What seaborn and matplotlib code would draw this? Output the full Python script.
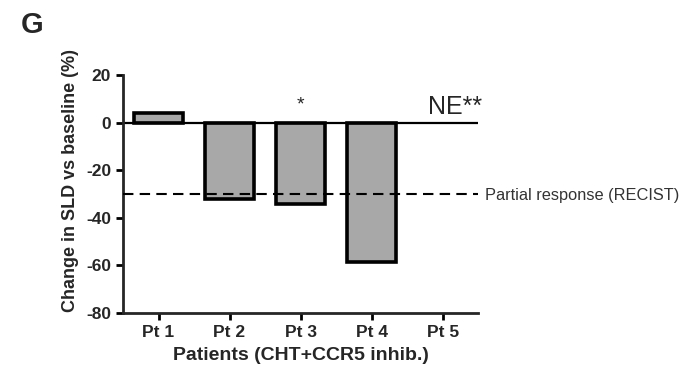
import matplotlib
matplotlib.use("Agg")
import matplotlib.pyplot as plt
import seaborn as sns
import numpy as np
import pandas as pd

patients = ["Pt 1", "Pt 2", "Pt 3", "Pt 4", "Pt 5"]
change = [4.0, -32.0, -34.0, -58.5, np.nan]
partial_response = -30
yticks = [-80, -60, -40, -20, 0, 20]

sns.set_theme(style="ticks")
plt.rcParams['font.family'] = ['Liberation Sans', 'DejaVu Sans']
plt.rcParams['axes.unicode_minus'] = False

df = pd.DataFrame({"patient": patients, "change": change})

fig = plt.figure(figsize=(6.97, 3.71), dpi=100)
ax = fig.add_axes([0.1765, 0.156, 0.5095, 0.642])

sns.barplot(data=df, x="patient", y="change", order=patients, color="#a8a8a8",
            saturation=1, width=0.68, edgecolor="black", linewidth=2.6, ax=ax)

ax.set_xlim(-0.5, 4.5)
ax.set_ylim(-80, 20)
ax.set_yticks(yticks)
ax.axhline(0, color="black", lw=1.6, zorder=1)
ax.axhline(partial_response, color="black", lw=1.5, ls=(0, (5, 3)), zorder=3, clip_on=False)

for s in ["top", "right"]:
    ax.spines[s].set_visible(False)
for s in ["left", "bottom"]:
    ax.spines[s].set_linewidth(2)
ax.tick_params(axis="both", width=2, length=5, labelsize=12.5, color="black")
for lab in ax.get_xticklabels() + ax.get_yticklabels():
    lab.set_fontweight("bold")

ax.set_xlabel("Patients (CHT+CCR5 inhib.)", fontsize=14, fontweight="bold", labelpad=5)
ax.set_ylabel("Change in SLD vs baseline (%)", fontsize=13, fontweight="bold")
ax.yaxis.set_label_coords(-0.125, 0.555)

ax.text(2, 4, "*", ha="center", va="bottom", fontsize=14)
ax.text(4.18, 1.6, "NE**", ha="center", va="bottom", fontsize=18)
ax.text(1.018, partial_response - 0.8, "Partial response (RECIST)", transform=ax.get_yaxis_transform(),
        ha="left", va="center", fontsize=11.8, color="#333333")
fig.text(0.03, 0.895, "G", fontsize=21, fontweight="bold", ha="left", va="bottom")

fig.savefig("out.png", dpi=100)
